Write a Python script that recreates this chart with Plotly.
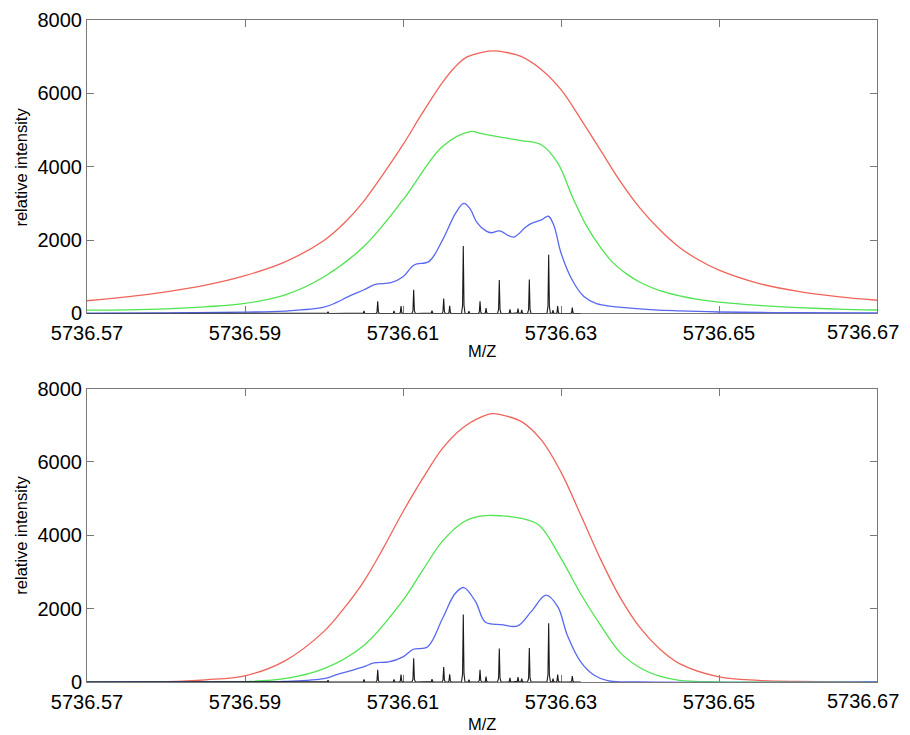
import plotly.graph_objects as go
from plotly.subplots import make_subplots

# ---------------- data ----------------
x_ticks = [5736.57, 5736.59, 5736.61, 5736.63, 5736.65, 5736.67]
y_ticks = [0, 2000, 4000, 6000, 8000]

# top panel
top_red_mz = [5736.570, 5736.575, 5736.580, 5736.585, 5736.590, 5736.595, 5736.600, 5736.6025,
              5736.605, 5736.6075, 5736.610, 5736.6125, 5736.615, 5736.6165, 5736.618, 5736.620,
              5736.6215, 5736.623, 5736.625, 5736.6275, 5736.630, 5736.6325, 5736.635, 5736.6375,
              5736.640, 5736.6425, 5736.645, 5736.6475, 5736.650, 5736.655, 5736.660, 5736.665,
              5736.670]
top_red_val = [346, 450, 590, 770, 1030, 1400, 1990, 2450,
               3050, 3800, 4600, 5480, 6300, 6700, 6980, 7120,
               7160, 7120, 7000, 6650, 6100, 5300, 4450, 3600,
               2870, 2280, 1800, 1450, 1180, 820, 600, 460,
               360]

top_green_mz = [5736.570, 5736.575, 5736.580, 5736.585, 5736.590, 5736.595, 5736.600, 5736.605,
                5736.610, 5736.615, 5736.6185, 5736.620, 5736.6225, 5736.625, 5736.6275, 5736.6296,
                5736.6314, 5736.6332, 5736.635, 5736.6366, 5736.6383, 5736.640, 5736.6425, 5736.645,
                5736.6475, 5736.650, 5736.655, 5736.660, 5736.665, 5736.670]
top_green_val = [90, 100, 127, 182, 273, 500, 1000, 1820,
                 3094, 4550, 4960, 4900, 4800, 4714, 4600, 4100,
                 3200, 2400, 1800, 1380, 1080, 850, 620, 480,
                 380, 310, 220, 160, 120, 95]

top_blue_mz = [5736.570, 5736.580, 5736.590, 5736.595, 5736.600, 5736.6016, 5736.603, 5736.605,
               5736.6065, 5736.6085, 5736.610, 5736.6114, 5736.6133, 5736.615, 5736.6167, 5736.6177,
               5736.6185, 5736.6193, 5736.6205, 5736.6212, 5736.6222, 5736.6240, 5736.6255, 5736.6262,
               5736.6276, 5736.6284, 5736.6291, 5736.6300, 5736.6314, 5736.6329, 5736.6345, 5736.640,
               5736.645, 5736.650, 5736.660, 5736.670]
top_blue_val = [10, 15, 35, 64, 170, 300, 450, 640,
                790, 840, 1000, 1320, 1420, 2000, 2750, 3000,
                2850, 2500, 2250, 2200, 2250, 2080, 2350, 2450,
                2560, 2650, 2400, 1650, 920, 460, 270, 127,
                70, 40, 20, 12]

# bottom panel
bot_red_mz = [5736.570, 5736.575, 5736.580, 5736.585, 5736.590, 5736.595, 5736.600, 5736.6025,
              5736.605, 5736.6075, 5736.610, 5736.6125, 5736.615, 5736.6175, 5736.620, 5736.6212,
              5736.6225, 5736.625, 5736.6275, 5736.630, 5736.6325, 5736.635, 5736.6375, 5736.640,
              5736.6425, 5736.645, 5736.650, 5736.655, 5736.660, 5736.665, 5736.670]
bot_red_val = [0, 2, 10, 60, 170, 570, 1380, 2000,
               2730, 3650, 4640, 5550, 6370, 6920, 7235, 7316,
               7280, 7098, 6600, 5720, 4550, 3350, 2300, 1480,
               900, 500, 140, 45, 15, 4, 0]

bot_green_mz = [5736.570, 5736.585, 5736.590, 5736.595, 5736.600, 5736.605, 5736.610, 5736.6125,
                5736.615, 5736.6177, 5736.620, 5736.6225, 5736.625, 5736.6272, 5736.630, 5736.6325,
                5736.635, 5736.6375, 5736.640, 5736.6425, 5736.645, 5736.650, 5736.670]
bot_green_val = [0, 0, 10, 90, 364, 990, 2230, 3050,
                 3840, 4370, 4530, 4530, 4460, 4280, 3370, 2400,
                 1550, 800, 390, 160, 46, 5, 0]

bot_blue_mz = [5736.570, 5736.590, 5736.595, 5736.600, 5736.6016, 5736.605, 5736.6063, 5736.6082,
               5736.610, 5736.6113, 5736.6131, 5736.615, 5736.6166, 5736.6177, 5736.6192, 5736.6204,
               5736.6224, 5736.6245, 5736.6262, 5736.6281, 5736.6296, 5736.6308, 5736.6325, 5736.6342,
               5736.6359, 5736.640, 5736.670]
bot_blue_val = [0, 0, 18, 91, 200, 410, 519, 546,
                683, 892, 955, 1729, 2412, 2575, 2184, 1638,
                1565, 1529, 1911, 2366, 2048, 1274, 546, 182,
                36, 0, 0]

# fine-structure stick spectrum (black), same in both panels
peak_mz = [5736.60051, 5736.60506, 5736.60680, 5736.60886, 5736.60975, 5736.61135, 5736.61367,
           5736.61515, 5736.61591, 5736.61763, 5736.61835, 5736.61975, 5736.62051, 5736.62219,
           5736.62354, 5736.62456, 5736.62503, 5736.62599, 5736.62844, 5736.62899, 5736.62958,
           5736.63143]
peak_int = [50, 70, 330, 70, 200, 645, 80,
            405, 210, 1840, 65, 335, 145, 915,
            110, 135, 95, 925, 1600, 90, 200,
            162]
stick_start = 5736.570
stick_end = 5736.6325

# ---------------- styling ----------------
RED = "rgb(240,100,90)"
GREEN = "rgb(80,228,80)"
BLUE = "rgb(88,104,240)"
BLACK = "rgb(25,25,25)"
AXIS = "rgb(120,120,120)"
FONT = "Liberation Sans, Arial, sans-serif"


def stick_xy(pos, hts, lo, hi):
    xs, ys = [lo], [0]
    for p, h in zip(pos, hts):
        xs += [p - 0.00022, p - 0.00009, p, p + 0.00009, p + 0.00022]
        ys += [0, 0.12 * h, h, 0.12 * h, 0]
    xs.append(hi)
    ys.append(0)
    return xs, ys


fig = make_subplots(rows=2, cols=1, vertical_spacing=0.1134)

panels = [
    (1, top_red_mz, top_red_val, top_green_mz, top_green_val, top_blue_mz, top_blue_val),
    (2, bot_red_mz, bot_red_val, bot_green_mz, bot_green_val, bot_blue_mz, bot_blue_val),
]
sx, sy = stick_xy(peak_mz, peak_int, stick_start, stick_end)
for row, rx, ry, gx, gy, bx, by in panels:
    for xs, ys, col in ((rx, ry, RED), (gx, gy, GREEN), (bx, by, BLUE)):
        fig.add_trace(go.Scatter(x=xs, y=ys, mode="lines",
                                 line=dict(color=col, width=1.3, shape="spline", smoothing=1.0),
                                 showlegend=False, hoverinfo="skip"), row=row, col=1)
    fig.add_trace(go.Scatter(x=sx, y=sy, mode="lines", line=dict(color=BLACK, width=1.1),
                             showlegend=False, hoverinfo="skip"), row=row, col=1)

TICK_FONT = dict(family=FONT, size=20, color="black")
axis_common = dict(
    showline=True, mirror="ticks", linecolor=AXIS, linewidth=1,
    ticks="inside", ticklen=7, tickcolor=AXIS, tickwidth=1,
    showgrid=False, zeroline=False, layer="below traces",
    ticklabeloverflow="allow", tickfont=TICK_FONT,
)
# the right-most tick label would overflow the page edge; it is drawn as an
# annotation that ends just inside the visible page instead
x_text = [f"{v:.2f}" for v in x_ticks[:-1]] + [""]
x_range = [x_ticks[0] - 1e-7, x_ticks[-1] + 1e-7]
for r in (1, 2):
    fig.update_xaxes(range=x_range, tickvals=x_ticks, ticktext=x_text,
                     ticklabelstandoff=2, row=r, col=1, **axis_common)
    fig.update_yaxes(range=[y_ticks[0], y_ticks[-1]], tickvals=y_ticks, tickformat="d",
                     ticklabelstandoff=0, row=r, col=1, **axis_common)

fig.update_xaxes(domain=[0, 1])
fig.update_yaxes(domain=[0.5567, 1.0], row=1, col=1)
fig.update_yaxes(domain=[0.0, 0.4433], row=2, col=1)

for ybase in (0.5567, 0.0):
    fig.add_annotation(xref="paper", yref="paper", x=1.0, y=ybase, xanchor="right", yanchor="middle",
                       xshift=23, yshift=-19, showarrow=False, text=f"{x_ticks[-1]:.2f}",
                       font=TICK_FONT, borderpad=0)

ann_font = dict(family=FONT, size=16.5, color="black")
annotations = [
    dict(text="relative intensity", x=-0.084, y=0.778, textangle=-90),
    dict(text="relative intensity", x=-0.084, y=0.222, textangle=-90),
    dict(text="M/Z", x=0.5, y=0.500, textangle=0),
    dict(text="M/Z", x=0.5, y=-0.064, textangle=0),
]
for a in annotations:
    fig.add_annotation(xref="paper", yref="paper", showarrow=False, font=ann_font,
                       xanchor="center", yanchor="middle", **a)

# the page places the figure 8 px from the top-left corner, so the figure is
# 8 px smaller than the window and its margins are reduced accordingly
fig.update_layout(
    width=902, height=727,
    margin=dict(l=79, r=33, t=12, b=53, autoexpand=False),
    paper_bgcolor="white", plot_bgcolor="white",
    font=dict(family=FONT),
)

fig.write_html("out.html")
